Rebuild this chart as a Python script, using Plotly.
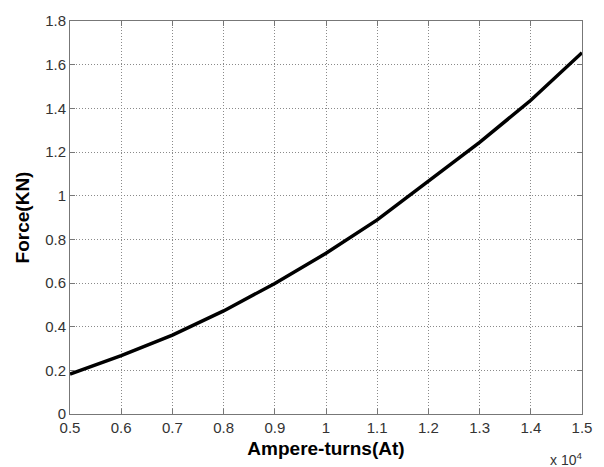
import plotly.graph_objects as go

# Data
ampere_turns = [5000, 6000, 7000, 8000, 9000, 10000, 11000, 12000, 13000, 14000, 15000]
force_kn = [0.183, 0.267, 0.361, 0.472, 0.598, 0.736, 0.889, 1.068, 1.244, 1.437, 1.655]

x_tickvals = [5000, 6000, 7000, 8000, 9000, 10000, 11000, 12000, 13000, 14000, 15000]
x_ticktext = ["0.5", "0.6", "0.7", "0.8", "0.9", "1", "1.1", "1.2", "1.3", "1.4", "1.5"]
y_tickvals = [0, 0.2, 0.4, 0.6, 0.8, 1.0, 1.2, 1.4, 1.6, 1.8]
y_ticktext = ["0", "0.2", "0.4", "0.6", "0.8", "1", "1.2", "1.4", "1.6", "1.8"]

FONT = "Liberation Sans, Arial, sans-serif"

fig = go.Figure()
fig.add_trace(go.Scatter(
    x=ampere_turns, y=force_kn, mode="lines",
    line=dict(color="black", width=3.5),
    showlegend=False,
))

axis_common = dict(
    showgrid=True, gridcolor="#8a8a8a", griddash="1px,2px", gridwidth=1,
    showline=True, linecolor="#777777", linewidth=1, mirror="ticks",
    ticks="inside", ticklen=5, tickcolor="#777777",
    zeroline=False,
    tickfont=dict(family=FONT, size=15, color="#333333"),
)

fig.update_layout(
    width=604, height=467,
    margin=dict(l=70, r=21, t=13, b=49),
    paper_bgcolor="white", plot_bgcolor="white",
    xaxis=dict(
        range=[5000, 15000], tickvals=x_tickvals, ticktext=x_ticktext,
        title=dict(text="<b>Ampere-turns(At)</b>", standoff=6,
                   font=dict(family=FONT, size=19, color="black")),
        **axis_common,
    ),
    yaxis=dict(
        range=[0, 1.8], tickvals=y_tickvals, ticktext=y_ticktext,
        title=dict(text="<b>Force(KN)</b>", standoff=10,
                   font=dict(family=FONT, size=19, color="black")),
        **axis_common,
    ),
    annotations=[dict(
        text="x 10<sup>4</sup>", xref="paper", yref="paper",
        x=1.0, y=0, xanchor="right", yanchor="top", yshift=-34, xshift=2,
        showarrow=False, font=dict(family=FONT, size=14, color="#333333"),
    )],
)

fig.write_html("out.html")
